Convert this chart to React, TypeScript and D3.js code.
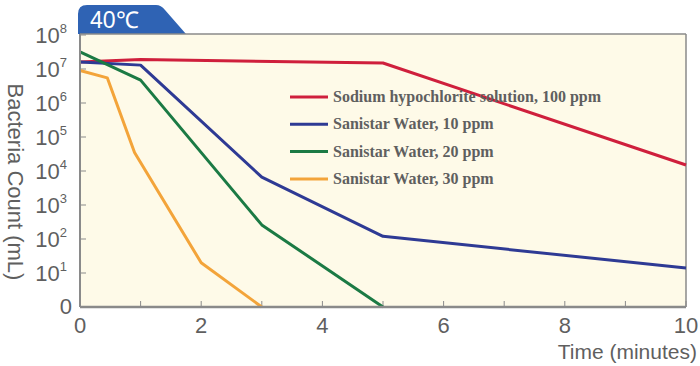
import * as d3 from 'd3';

// time (minutes) and bacteria counts per series
const hypoTime = [0, 1, 5, 10];
const hypoCount = [1.6e7, 1.9e7, 1.5e7, 1.5e4];
const s10Time = [0, 1, 3, 5, 10];
const s10Count = [1.6e7, 1.3e7, 6.6e3, 1.2e2, 14];
const s20Time = [0, 1, 3, 5];
const s20Count = [3.2e7, 4.7e6, 2.6e2, 1];
const s30Time = [0, 0.45, 0.9, 2, 3];
const s30Count = [9e6, 5.5e6, 3.5e4, 20, 1];

const seriesNames = [
  'Sodium hypochlorite solution, 100 ppm',
  'Sanistar Water, 10 ppm',
  'Sanistar Water, 20 ppm',
  'Sanistar Water, 30 ppm',
];
const seriesColors = ['#cf1f3c', '#2e3a94', '#1b7a44', '#f3a43a'];

const xTicks = [0, 1, 2, 3, 4, 5, 6, 7, 8, 9, 10];
const xLabels = [0, 2, 4, 6, 8, 10];
const yExponents = [1, 2, 3, 4, 5, 6, 7, 8];

export default function App() {
  const width = 700;
  const height = 366;
  const left = 80, right = 686, top = 34, bottom = 307;

  const x = d3.scaleLinear().domain([0, 10]).range([left, right]);
  const y = d3.scaleLog().domain([1, 1e8]).range([bottom, 35]);

  const line = d3.line<[number, number]>()
    .x(d => x(d[0]))
    .y(d => y(d[1]));

  const series = [
    [hypoTime, hypoCount],
    [s10Time, s10Count],
    [s20Time, s20Count],
    [s30Time, s30Count],
  ].map(([t, v]) => t.map((ti, i) => [ti, v[i]] as [number, number]));

  const sans = '"Liberation Sans", Arial, sans-serif';
  const serif = '"Liberation Serif", "Times New Roman", serif';
  const grey = '#5f5f5f';
  const axisGrey = '#8a8a8a';

  return (
    <svg width={width} height={height} style={{ position: 'absolute', left: 0, top: 0 }}>
      <rect x={0} y={0} width={width} height={height} fill="#ffffff" />

      {/* temperature tab */}
      <path d="M78,34 V14 Q78,5 87,5 H156 Q161,5 165,10 L186,34 Z" fill="#2f63b4" />
      <text x={90} y={28} fill="#ffffff" fontFamily={sans} fontSize={23}>40℃</text>

      {/* plot area */}
      <rect x={left} y={top} width={right - left} height={bottom - top} fill="#fefae8" />
      <line x1={left} x2={right} y1={top} y2={top} stroke={axisGrey} strokeWidth={1.5} />
      <line x1={right} x2={right} y1={top} y2={bottom} stroke={axisGrey} strokeWidth={1.5} />

      {/* y ticks */}
      {yExponents.map(e => (
        <line key={'yt' + e} x1={left} x2={left + 6} y1={y(Math.pow(10, e))} y2={y(Math.pow(10, e))}
          stroke={axisGrey} strokeWidth={1} />
      ))}
      {/* x ticks */}
      {xTicks.map(t => (
        <line key={'xt' + t} x1={x(t)} x2={x(t)} y1={bottom} y2={bottom - 6} stroke={axisGrey} strokeWidth={1} />
      ))}

      {/* series lines */}
      {series.map((s, i) => (
        <path key={'s' + i} d={line(s) || ''} fill="none" stroke={seriesColors[i]} strokeWidth={3}
          strokeLinejoin="round" />
      ))}

      {/* axes */}
      <line x1={left} x2={left} y1={top} y2={bottom} stroke={axisGrey} strokeWidth={2} />
      <line x1={left} x2={right} y1={bottom} y2={bottom} stroke={axisGrey} strokeWidth={2.5} />

      {/* y labels */}
      {yExponents.map(e => (
        <text key={'yl' + e} x={67} y={y(Math.pow(10, e)) + 8} textAnchor="end" fill={grey}
          fontFamily={sans} fontSize={22}>
          10<tspan fontSize={13} dy={-10}>{e}</tspan>
        </text>
      ))}
      <text x={72} y={y(1) + 7} textAnchor="end" fill={grey} fontFamily={sans} fontSize={22}>0</text>

      {/* x labels */}
      {xLabels.map(t => (
        <text key={'xl' + t} x={x(t)} y={333} textAnchor="middle" fill={grey} fontFamily={sans} fontSize={22}>
          {t}
        </text>
      ))}
      <text x={697} y={359} textAnchor="end" fill={grey} fontFamily={sans} fontSize={21}>Time (minutes)</text>

      {/* y title */}
      <text transform="translate(8,182) rotate(90)" textAnchor="middle" fill={grey} fontFamily={sans}
        fontSize={22}>Bacteria Count (mL)</text>

      {/* legend */}
      {seriesNames.map((name, i) => (
        <g key={'lg' + i} transform={`translate(290,${97 + i * 27.3})`}>
          <line x1={0} x2={38} y1={0} y2={0} stroke={seriesColors[i]} strokeWidth={3} />
          <text x={43} y={5} fill={grey} fontFamily={serif} fontWeight="bold" fontSize={16}>{name}</text>
        </g>
      ))}
    </svg>
  );
}
